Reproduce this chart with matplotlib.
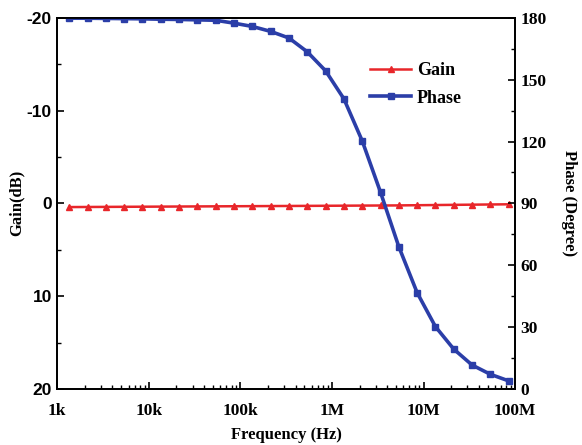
import numpy as np
import matplotlib
matplotlib.use("Agg")
import matplotlib.pyplot as plt
from matplotlib.ticker import LogLocator, FixedLocator, NullFormatter

# frequency points (Hz), 5 per decade
freq = [1.35e3, 2.14e3, 3.39e3, 5.37e3, 8.51e3,
        1.35e4, 2.14e4, 3.39e4, 5.37e4, 8.51e4,
        1.35e5, 2.14e5, 3.39e5, 5.37e5, 8.51e5,
        1.35e6, 2.14e6, 3.39e6, 5.37e6, 8.51e6,
        1.35e7, 2.14e7, 3.39e7, 5.37e7, 8.51e7]
gain = [0.40, 0.39, 0.38, 0.37, 0.36, 0.35, 0.34, 0.33, 0.32, 0.31,
        0.30, 0.29, 0.28, 0.27, 0.26, 0.25, 0.24, 0.23, 0.22, 0.20,
        0.18, 0.16, 0.14, 0.12, 0.10]
phase = [179.8, 179.8, 179.7, 179.6, 179.5, 179.3, 179.2, 179.0, 178.8, 177.4,
         175.8, 173.4, 170.2, 163.5, 154.3, 140.7, 120.3, 95.4, 69.0, 46.7,
         30.2, 19.3, 11.6, 7.1, 3.9]

xticks = [1e3, 1e4, 1e5, 1e6, 1e7, 1e8]
xlabels = ['1k', '10k', '100k', '1M', '10M', '100M']

red = '#e8262a'
blue = '#2b3ea8'
serif = 'Liberation Serif'
sans = 'Liberation Sans'

fig = plt.figure(figsize=(5.82, 4.45), dpi=100)
ax = fig.add_axes([0.0985, 0.126, 0.7865, 0.834])
ax2 = ax.twinx()

l1, = ax.plot(freq, gain, color=red, lw=1.8, marker='^', ms=5, label='Gain')
l2, = ax2.plot(freq, phase, color=blue, lw=2.6, marker='s', ms=4.5, label='Phase')

ax.set_xscale('log')
ax.set_xlim(1e3, 1e8)
ax.set_ylim(20, -20)
ax2.set_ylim(0, 180)

ax.set_xticks(xticks)
ax.set_xticklabels(xlabels, fontfamily=serif, fontweight='bold', fontsize=12.5)
ax.xaxis.set_minor_locator(LogLocator(base=10, subs=np.arange(2, 10)))
ax.xaxis.set_minor_formatter(NullFormatter())

ax.set_yticks([-20, -10, 0, 10, 20])
ax.set_yticklabels(['-20', '-10', '0', '10', '20'], fontfamily=sans,
                   fontweight='bold', fontsize=12.5)
ax.yaxis.set_minor_locator(FixedLocator([-15, -5, 5, 15]))

ax2.set_yticks([0, 30, 60, 90, 120, 150, 180])
ax2.set_yticklabels(['0', '30', '60', '90', '120', '150', '180'],
                    fontfamily=serif, fontweight='bold', fontsize=12.5)
ax2.yaxis.set_minor_locator(FixedLocator([15, 45, 75, 105, 135, 165]))

for a in (ax, ax2):
    for s in a.spines.values():
        s.set_linewidth(1.3)
ax.tick_params(axis='both', which='major', direction='in', length=5, width=1.2, pad=4)
ax.tick_params(axis='both', which='minor', direction='in', length=3, width=1.0)
ax.tick_params(axis='x', which='both', top=False, pad=10)
ax2.tick_params(axis='y', which='major', direction='in', length=5, width=1.2, pad=4)
ax2.tick_params(axis='y', which='minor', direction='in', length=3, width=1.0)

ax.set_xlabel('Frequency (Hz)', fontfamily=serif, fontweight='bold', fontsize=12, labelpad=6)
ax.set_ylabel('Gain(dB)', fontfamily=serif, fontweight='bold', fontsize=12, labelpad=1.5)
ax2.set_ylabel('Phase (Degree)', fontfamily=serif, fontweight='bold', fontsize=12,
               rotation=-90, labelpad=22)

leg = ax.legend(handles=[l1, l2], loc='upper left', bbox_to_anchor=(0.647, 0.925),
                frameon=False, prop={'family': serif, 'weight': 'bold', 'size': 13},
                handlelength=2.3, handletextpad=0.3, labelspacing=0.6)

fig.savefig('out.png', dpi=100)
